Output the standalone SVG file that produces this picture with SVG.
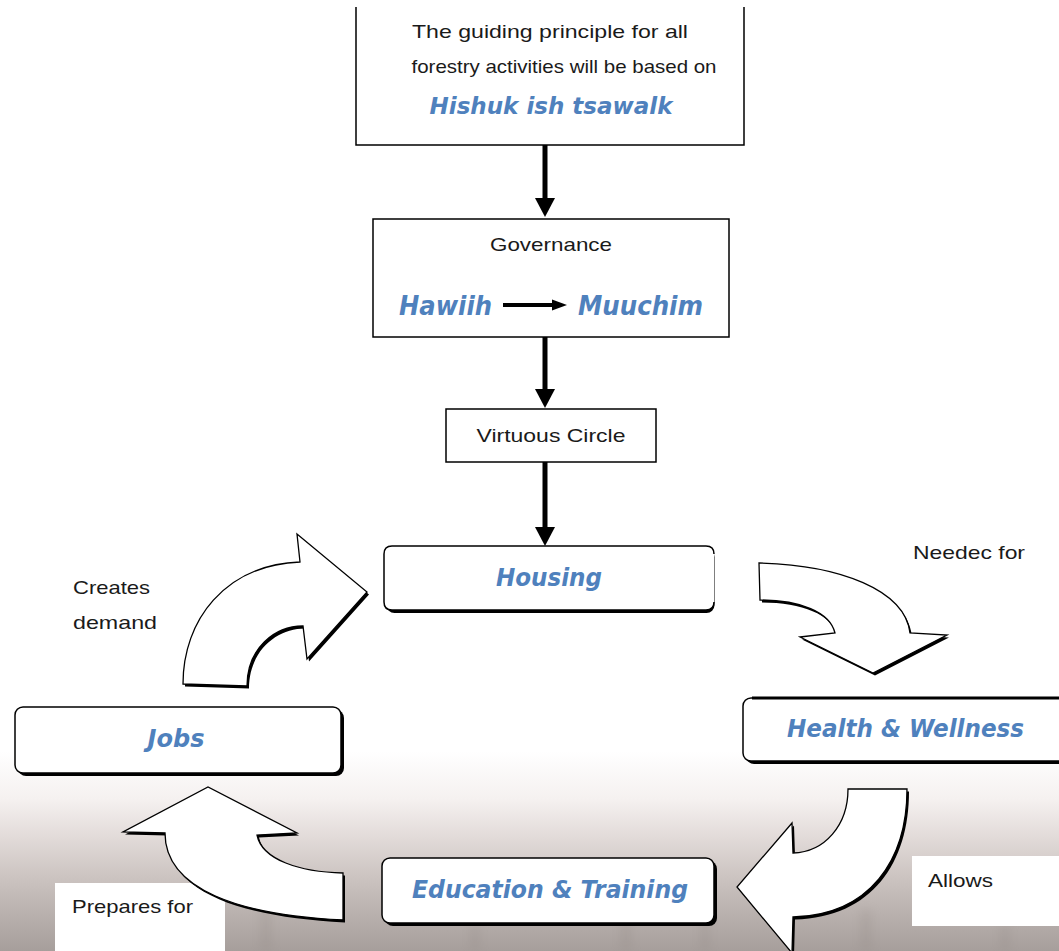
<svg xmlns="http://www.w3.org/2000/svg" width="1059" height="951" viewBox="0 0 1059 951">
<style>
.t{font-family:"Liberation Sans",Arial,sans-serif;font-size:19px;fill:#1a1a1a}
.b{font-family:"DejaVu Sans","Open Sans",sans-serif;font-weight:bold;font-style:italic;fill:#4f81bd}
.box{fill:#fff;stroke:#000;stroke-width:1.5}
.sh{fill:#000}
.arr{fill:#fff;stroke:#000;stroke-width:1.3;stroke-linejoin:miter}
.conn{stroke:#000;stroke-width:5;fill:none}
</style>
<defs>
<linearGradient id="bg" x1="0" y1="0" x2="0" y2="951" gradientUnits="userSpaceOnUse">
<stop offset="0" stop-color="#ffffff"/>
<stop offset="0.79" stop-color="#ffffff"/>
<stop offset="0.84" stop-color="#f5f1f0"/>
<stop offset="0.88" stop-color="#e2dbd9"/>
<stop offset="0.92" stop-color="#cdc5c2"/>
<stop offset="0.96" stop-color="#b9b1ae"/>
<stop offset="1" stop-color="#a69e9b"/>
</linearGradient>
<marker id="ah" markerUnits="userSpaceOnUse" markerWidth="20" markerHeight="20" refX="0" refY="10" orient="auto" viewBox="0 0 20 20">
<path d="M0,0 L19,10 L0,20 z" fill="#000"/>
</marker>
<filter id="blur" x="-50%" y="-50%" width="200%" height="200%"><feGaussianBlur stdDeviation="5"/></filter>
</defs>

<rect x="0" y="0" width="1059" height="951" fill="url(#bg)"/>
<g id="trees" filter="url(#blur)" fill="#8d8480" opacity="0.2">
<rect x="120" y="910" width="10" height="41"/>
<rect x="260" y="905" width="12" height="46"/>
<rect x="470" y="925" width="10" height="26"/>
<rect x="620" y="920" width="12" height="31"/>
<rect x="700" y="900" width="10" height="51"/>
<rect x="860" y="910" width="12" height="41"/>
<rect x="1000" y="925" width="10" height="26"/>
</g>

<g id="label-prepares">
<rect x="55" y="883" width="170" height="68" fill="#fff"/>
<text class="t" x="72" y="913" textLength="121" lengthAdjust="spacingAndGlyphs">Prepares for</text>
</g>
<g id="label-allows">
<rect x="912" y="856" width="147" height="70" fill="#fff"/>
<text class="t" x="928" y="887" textLength="65" lengthAdjust="spacingAndGlyphs">Allows</text>
</g>
<g id="label-creates">
<text class="t" x="73" y="594" textLength="77" lengthAdjust="spacingAndGlyphs">Creates</text>
<text class="t" x="73" y="629" textLength="84" lengthAdjust="spacingAndGlyphs">demand</text>
</g>
<g id="label-needed">
<text class="t" x="913" y="559" textLength="112" lengthAdjust="spacingAndGlyphs">Needec for</text>
</g>

<g id="principle">
<path d="M356,7 V145 H744 V7" class="box" fill="#fff"/>
<text class="t" x="550" y="38" text-anchor="middle" textLength="276" lengthAdjust="spacingAndGlyphs">The guiding principle for all</text>
<text class="t" x="564" y="73" text-anchor="middle" textLength="305" lengthAdjust="spacingAndGlyphs">forestry activities will be based on</text>
<text class="b" x="551" y="114" text-anchor="middle" font-size="23" textLength="243" lengthAdjust="spacingAndGlyphs">Hishuk ish tsawalk</text>
</g>

<g id="governance">
<rect x="373" y="219" width="356" height="118" class="box"/>
<text class="t" x="551" y="251" text-anchor="middle" textLength="122" lengthAdjust="spacingAndGlyphs">Governance</text>
<text class="b" x="399" y="315" font-size="27" textLength="93" lengthAdjust="spacingAndGlyphs">Hawiih</text>
<line x1="503" y1="305" x2="553" y2="305" stroke="#000" stroke-width="4"/>
<path d="M552,299.5 L567,305 L552,310.5 z" fill="#000"/>
<text class="b" x="578" y="315" font-size="27" textLength="125" lengthAdjust="spacingAndGlyphs">Muuchim</text>
</g>

<g id="virtuous">
<rect x="446" y="409" width="210" height="53" class="box"/>
<text class="t" x="551" y="442" text-anchor="middle" textLength="149" lengthAdjust="spacingAndGlyphs">Virtuous Circle</text>
</g>

<g id="housing">
<rect x="386.5" y="549" width="328" height="64" rx="8" class="sh"/>
<rect x="384" y="546" width="330" height="64" rx="8" fill="#fff"/>
<path d="M714,554 Q714,546 706,546 H392 Q384,546 384,554 V602 Q384,610 392,610 H706 Q714,610 714,602" fill="none" stroke="#000" stroke-width="1.5"/>
<text class="b" x="549" y="586" text-anchor="middle" font-size="24" textLength="106" lengthAdjust="spacingAndGlyphs">Housing</text>
</g>

<g id="health">
<rect x="746" y="701" width="340" height="63" rx="8" class="sh"/>
<rect x="743" y="698" width="340" height="63" rx="8" class="box"/>
<line x1="752" y1="698" x2="1059" y2="698" stroke="#000" stroke-width="3"/>
<text class="b" x="787" y="737" font-size="24" textLength="237" lengthAdjust="spacingAndGlyphs">Health &amp; Wellness</text>
</g>

<g id="education">
<rect x="385" y="861" width="332" height="65" rx="8" class="sh"/>
<rect x="382" y="858" width="332" height="65" rx="8" class="box"/>
<text class="b" x="412" y="898" font-size="24" textLength="276" lengthAdjust="spacingAndGlyphs">Education &amp; Training</text>
</g>

<g id="jobs">
<rect x="18" y="710" width="326" height="66" rx="8" class="sh"/>
<rect x="15" y="707" width="326" height="66" rx="8" class="box"/>
<text class="b" x="176" y="747" text-anchor="middle" font-size="24" textLength="57" lengthAdjust="spacingAndGlyphs">Jobs</text>
</g>

<g id="connectors">
<line class="conn" x1="545" y1="145" x2="545" y2="198" marker-end="url(#ah)"/>
<line class="conn" x1="545" y1="337" x2="545" y2="389" marker-end="url(#ah)"/>
<line class="conn" x1="545" y1="462" x2="545" y2="527" marker-end="url(#ah)"/>

<g id="arrow-creates">
<path class="sh" transform="translate(2,2.5)" d="M183,684 C183,620 225,565 300,562 L297,534 L367,592 L307,659 L303,626 C275,626 247,648 247,686 Z"/>
<path class="arr" d="M183,684 C183,620 225,565 300,562 L297,534 L367,592 L307,659 L303,626 C275,626 247,648 247,686 Z"/>
</g>
<g id="arrow-needed">
<path class="sh" transform="translate(2,2.5)" d="M759,563 C840,565 905,590 910,633 L947,635 L873,673 L800,637 L835,633 C830,612 800,600 760,600 Z"/>
<path class="arr" d="M759,563 C840,565 905,590 910,633 L947,635 L873,673 L800,637 L835,633 C830,612 800,600 760,600 Z"/>
</g>
<g id="arrow-allows">
<path class="sh" transform="translate(2,2.5)" d="M848,789 L907,789 C907,860 870,915 793,917 L792,953 L737,887 L792,823 L793,853 C825,852 848,825 848,789 Z"/>
<path class="arr" d="M848,789 L907,789 C907,860 870,915 793,917 L792,953 L737,887 L792,823 L793,853 C825,852 848,825 848,789 Z"/>
</g>
<g id="arrow-prepares">
<path class="sh" transform="translate(2,2.5)" d="M343,873 L343,920 C240,915 165,890 165,833 L123,832 L208,787 L297,833 L257,835 C262,860 300,872 343,873 Z"/>
<path class="arr" d="M343,873 L343,920 C240,915 165,890 165,833 L123,832 L208,787 L297,833 L257,835 C262,860 300,872 343,873 Z"/>
</g>
</g>
</svg>
